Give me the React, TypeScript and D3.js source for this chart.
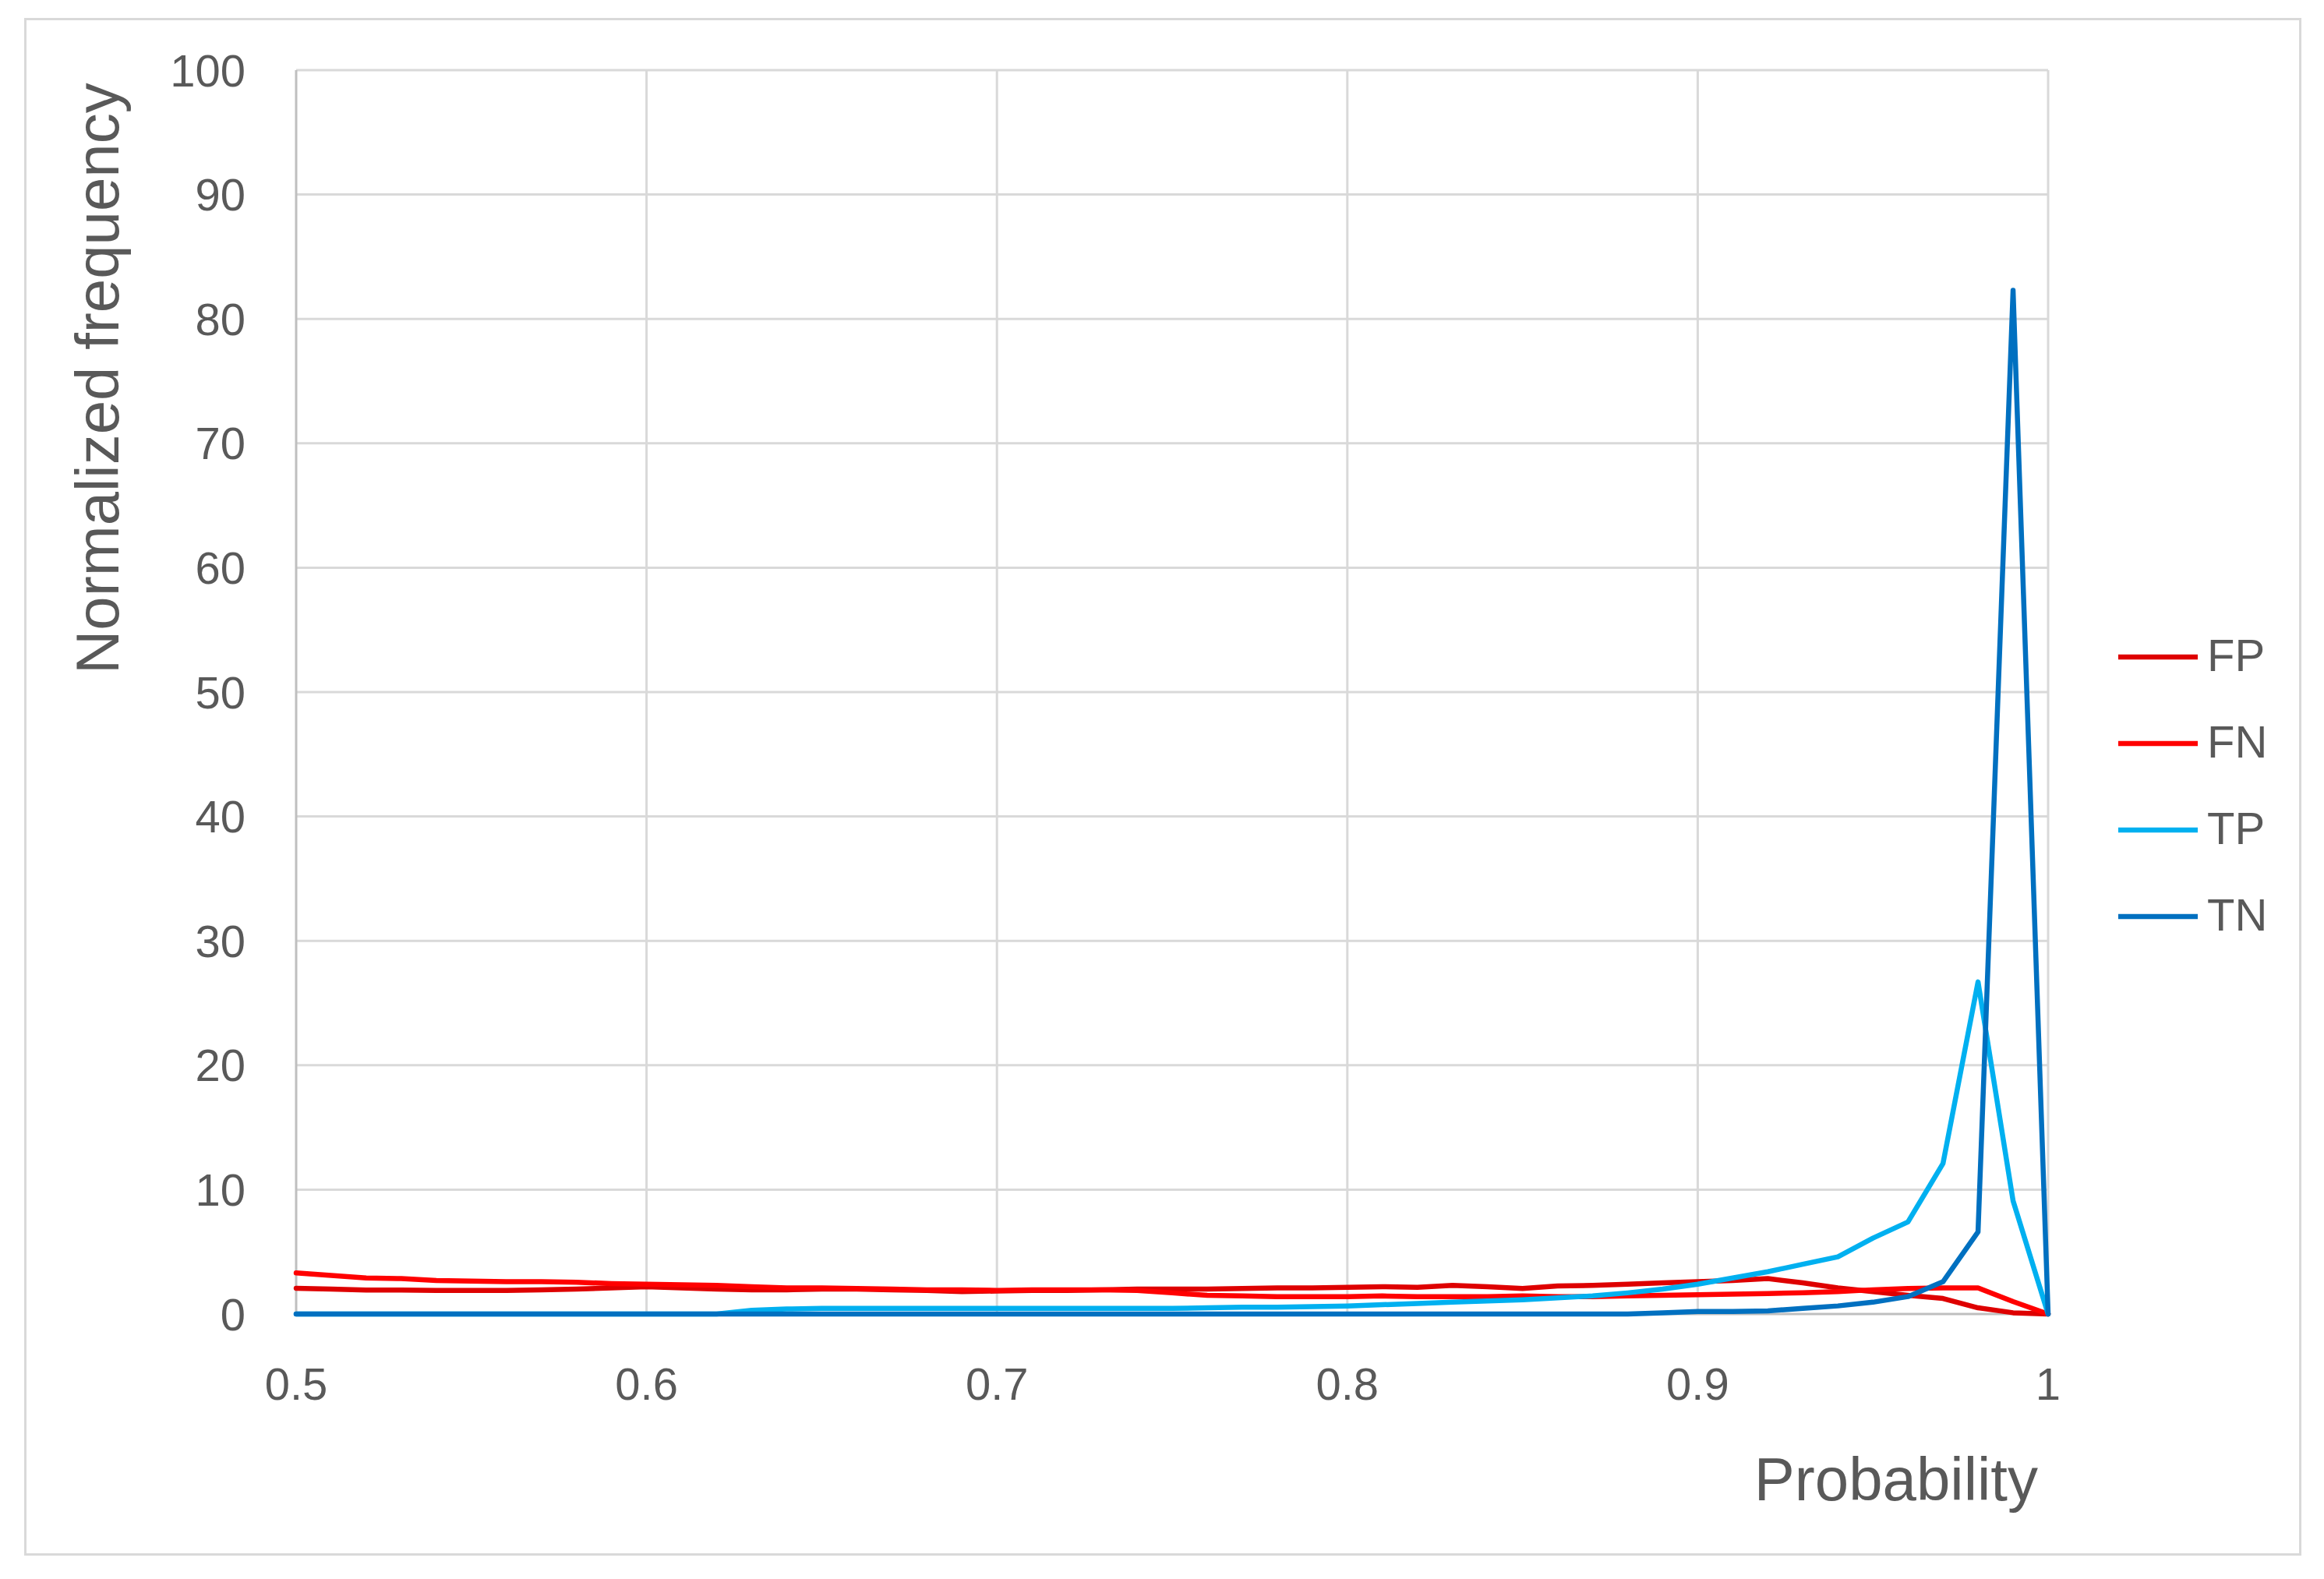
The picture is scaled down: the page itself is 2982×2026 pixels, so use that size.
import React from "react";
import * as d3 from "d3";

const probability = [
  0.5, 0.51, 0.52, 0.53, 0.54, 0.55, 0.56, 0.57, 0.58, 0.59,
  0.6, 0.61, 0.62, 0.63, 0.64, 0.65, 0.66, 0.67, 0.68, 0.69,
  0.7, 0.71, 0.72, 0.73, 0.74, 0.75, 0.76, 0.77, 0.78, 0.79,
  0.8, 0.81, 0.82, 0.83, 0.84, 0.85, 0.86, 0.87, 0.88, 0.89,
  0.9, 0.91, 0.92, 0.93, 0.94, 0.95, 0.96, 0.97, 0.98, 0.99, 1.0,
];

const fpValues = [
  2.07, 2.0, 1.92, 1.92, 1.9, 1.9, 1.9, 1.95, 2.0, 2.1,
  2.2, 2.1, 2.0, 1.95, 1.95, 2.0, 2.0, 1.95, 1.9, 1.8,
  1.85, 1.9, 1.9, 1.95, 2.0, 2.0, 2.0, 2.05, 2.1, 2.1,
  2.15, 2.2, 2.15, 2.3, 2.2, 2.05, 2.25, 2.3, 2.4, 2.5,
  2.6, 2.7, 2.85, 2.5, 2.1, 1.8, 1.5, 1.25, 0.5, 0.1, 0,
];

const fnValues = [
  3.3, 3.1, 2.9, 2.85, 2.7, 2.65, 2.6, 2.6, 2.55, 2.45,
  2.4, 2.35, 2.3, 2.2, 2.1, 2.1, 2.05, 2.0, 1.95, 1.95,
  1.9, 1.95, 1.95, 1.95, 1.9, 1.7, 1.5, 1.45, 1.4, 1.4,
  1.4, 1.45, 1.4, 1.4, 1.4, 1.45, 1.4, 1.4, 1.45, 1.5,
  1.55, 1.6, 1.65, 1.7, 1.8, 1.95, 2.05, 2.1, 2.1, 1.0, 0,
];

const tpValues = [
  0, 0, 0, 0, 0, 0, 0, 0, 0, 0,
  0, 0, 0, 0.3, 0.4, 0.45, 0.45, 0.45, 0.45, 0.45,
  0.45, 0.45, 0.45, 0.45, 0.45, 0.45, 0.5, 0.55, 0.55, 0.6,
  0.65, 0.75, 0.85, 0.95, 1.05, 1.15, 1.3, 1.45, 1.7, 2.0,
  2.4, 2.9, 3.4, 4.0, 4.6, 6.1, 7.4, 12.1, 26.7, 9.1, 0,
];

const tnValues = [
  0, 0, 0, 0, 0, 0, 0, 0, 0, 0,
  0, 0, 0, 0, 0, 0, 0, 0, 0, 0,
  0, 0, 0, 0, 0, 0, 0, 0, 0, 0,
  0, 0, 0, 0, 0, 0, 0, 0, 0, 0.1,
  0.2, 0.2, 0.25, 0.45, 0.65, 0.95, 1.4, 2.6, 6.6, 82.3, 0,
];

const seriesNames = ["FP", "FN", "TP", "TN"];
const seriesColors = ["#DE0000", "#FF0000", "#00B0F0", "#0070C0"];
const seriesData = [fpValues, fnValues, tpValues, tnValues];

const xTicks = [0.5, 0.6, 0.7, 0.8, 0.9, 1];
const yTicks = [0, 10, 20, 30, 40, 50, 60, 70, 80, 90, 100];

const W = 2982;
const H = 2026;
const FONT = "'Liberation Sans', Arial, sans-serif";

export default function App() {
  const left = 380;
  const right = 2628;
  const top = 90;
  const bottom = 1686;

  const x = d3.scaleLinear().domain([0.5, 1]).range([left, right]);
  const y = d3.scaleLinear().domain([0, 100]).range([bottom, top]);

  const line = d3
    .line<[number, number]>()
    .x((d) => x(d[0]))
    .y((d) => y(d[1]));

  return (
    <svg
      width={W}
      height={H}
      viewBox={`0 0 ${W} ${H}`}
      style={{ position: "absolute", left: 0, top: 0, background: "#fff" }}
    >
      <rect x={0} y={0} width={W} height={H} fill="#fff" />
      <rect
        x={32.5}
        y={24.5}
        width={2919}
        height={1970}
        fill="#fff"
        stroke="#d9d9d9"
        strokeWidth={3}
      />
      {/* horizontal gridlines */}
      {yTicks
        .filter((t) => t > 0)
        .map((t) => (
          <line
            key={"hg" + t}
            x1={left}
            x2={right}
            y1={y(t)}
            y2={y(t)}
            stroke="#d9d9d9"
            strokeWidth={3}
          />
        ))}
      {/* vertical gridlines */}
      {xTicks
        .filter((t) => t > 0.5)
        .map((t) => (
          <line
            key={"vg" + t}
            x1={x(t)}
            x2={x(t)}
            y1={top}
            y2={bottom}
            stroke="#d9d9d9"
            strokeWidth={3}
          />
        ))}
      {/* axes */}
      <line x1={left} x2={left} y1={top} y2={bottom} stroke="#bfbfbf" strokeWidth={3} />
      <line x1={left} x2={right} y1={bottom} y2={bottom} stroke="#bfbfbf" strokeWidth={3} />

      {/* y tick labels */}
      {yTicks.map((t) => (
        <text
          key={"yl" + t}
          x={315}
          y={y(t)}
          textAnchor="end"
          dominantBaseline="central"
          fontFamily={FONT}
          fontSize={58}
          fill="#595959"
        >
          {t}
        </text>
      ))}
      {/* x tick labels */}
      {xTicks.map((t) => (
        <text
          key={"xl" + t}
          x={x(t)}
          y={1796}
          textAnchor="middle"
          fontFamily={FONT}
          fontSize={58}
          fill="#595959"
        >
          {String(t)}
        </text>
      ))}

      {/* series lines */}
      {seriesData.map((vals, i) => (
        <path
          key={seriesNames[i]}
          d={line(probability.map((p, k) => [p, vals[k]] as [number, number])) || ""}
          fill="none"
          stroke={seriesColors[i]}
          strokeWidth={6.5}
          strokeLinejoin="round"
          strokeLinecap="round"
        />
      ))}

      {/* axis titles */}
      <text
        x={2615}
        y={1925}
        textAnchor="end"
        fontFamily={FONT}
        fontSize={78}
        fill="#595959"
      >
        Probability
      </text>
      <text
        transform="translate(152,865) rotate(-90)"
        x={0}
        y={0}
        textAnchor="start"
        fontFamily={FONT}
        fontSize={78}
        fill="#595959"
      >
        Normalized frequency
      </text>

      {/* legend */}
      {seriesNames.map((name, i) => {
        const ly = 843 + i * 111;
        return (
          <g key={"lg" + name}>
            <line
              x1={2718}
              x2={2820}
              y1={ly}
              y2={ly}
              stroke={seriesColors[i]}
              strokeWidth={6.5}
            />
            <text
              x={2832}
              y={ly - 3}
              dominantBaseline="central"
              fontFamily={FONT}
              fontSize={58}
              fill="#595959"
            >
              {name}
            </text>
          </g>
        );
      })}
    </svg>
  );
}
